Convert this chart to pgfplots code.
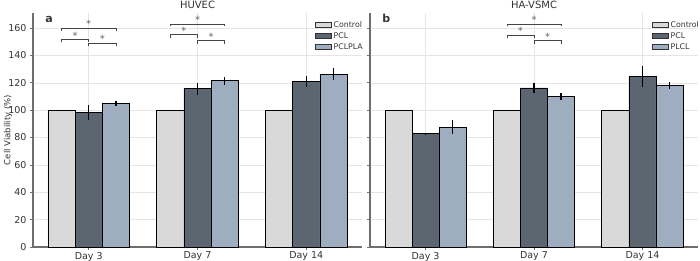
\documentclass[border=0pt]{standalone}
\usepackage{pgfplots}
\pgfplotsset{compat=1.18}
\usepackage{fontspec}
\setmainfont{DejaVu Sans}
\definecolor{cctrl}{RGB}{217,217,217}
\definecolor{cpcl}{RGB}{91,102,112}
\definecolor{cpla}{RGB}{158,173,191}
\definecolor{spine}{RGB}{110,110,110}
\definecolor{brk}{RGB}{70,70,70}
\tikzset{brkstyle/.style={brk, line width=0.8pt}}
\pgfplotsset{
  barplot/.style={ybar, bar width=0.25, bar shift=0pt, draw=black, line width=0.7pt, fill=#1},
  errplot/.style={forget plot, draw=none, mark=none,
      error bars/.cd, y dir=both, y explicit,
      error bar style={draw=black, line width=1.3pt},
      error mark=none},
  panel/.style={
    scale only axis, width=329pt, height=234pt,
    xmin=-0.5125, xmax=2.5125, ymin=0, ymax=171,
    axis x line*=bottom, axis y line*=left,
    axis line style={spine, line width=1.1pt},
    xtick={0,1,2}, xticklabels={Day 3,Day 7,Day 14},
    ytick={0,20,...,160},
    tick style={spine, line width=0.6pt},
    major tick length=3pt,
    tick align=outside,
    xmajorgrids, ymajorgrids,
    grid style={black!10, line width=0.5pt},
    ticklabel style={font=\fontsize{9.5}{11}\selectfont, text=black!80},
    /pgf/number format/assume math mode=true,
    x tick label style={yshift=1.5pt},
    title style={font=\fontsize{10}{12}\selectfont, text=black!80, yshift=-5pt},
    legend style={draw=none, fill=none, font=\fontsize{7.8}{9}\selectfont, text=black!80,
      at={(1,1)}, anchor=north east, row sep=-0.3pt, inner sep=1pt, xshift=4pt, yshift=-5pt},
    legend cell align=left,
    legend image code/.code={\draw[#1, line width=0.7pt, draw=black!80] (0pt,-2.4pt) rectangle (16pt,2.4pt);},
  },
}
\newcommand{\sigbrack}[4]{% x1 x2 y h
  \draw[brkstyle] (axis cs:#1,{#3-#4}) -- (axis cs:#1,#3) -- (axis cs:#2,#3) -- (axis cs:#2,{#3-#4});
  \node[anchor=base, inner sep=0pt, text=black!60, font=\fontsize{10}{11}\selectfont, yshift=0.5pt]
    at (axis cs:{(#1+#2)/2},#3) {*};
}
\begin{document}
\begin{tikzpicture}[x=1pt,y=1pt]
\begin{axis}[panel, at={(33pt,13pt)}, anchor=south west, title={HUVEC},
  ylabel={Cell Viability (\%)},
  every axis y label/.style={at={(axis description cs:-0.076,0.5)}, rotate=90, anchor=center,
    font=\fontsize{8.5}{10}\selectfont, text=black!80}]
\addplot[barplot=cctrl] coordinates {(-0.25,100) (0.75,100) (1.75,100)};
\addplot[barplot=cpcl] coordinates {(0,98.5) (1,115.6) (2,121.2)};
\addplot[barplot=cpla] coordinates {(0.25,104.9) (1.25,121.5) (2.25,126.4)};
\legend{Control,PCL,PCLPLA}
\addplot[errplot] coordinates {(0,98.5) +- (0,5.5) (1,115.6) +- (0,4.6) (2,121.2) +- (0,4.0)
  (0.25,104.9) +- (0,1.8) (1.25,121.5) +- (0,3.0) (2.25,126.4) +- (0,4.3)};
\sigbrack{-0.25}{0}{151.4}{1.8}
\sigbrack{0}{0.25}{149.0}{2.2}
\sigbrack{-0.25}{0.25}{159.7}{1.9}
\sigbrack{0.75}{1}{155.1}{2.2}
\sigbrack{1}{1.25}{150.7}{2.0}
\sigbrack{0.75}{1.25}{162.9}{1.7}
\node[anchor=base west, font=\bfseries\fontsize{11}{12}\selectfont, text=black!80] at (rel axis cs:0.027,0.96) {a};
\end{axis}
\begin{axis}[panel, at={(370pt,13pt)}, anchor=south west, width=328pt, title={HA-VSMC},
  yticklabels={}]
\addplot[barplot=cctrl] coordinates {(-0.25,100) (0.75,100) (1.75,100)};
\addplot[barplot=cpcl] coordinates {(0,82.7) (1,116.3) (2,124.6)};
\addplot[barplot=cpla] coordinates {(0.25,87.6) (1.25,110.2) (2.25,117.8)};
\legend{Control,PCL,PLCL}
\addplot[errplot] coordinates {(0,82.7) +- (0,0.4) (1,116.3) +- (0,3.4) (2,124.6) +- (0,7.5)
  (0.25,87.6) +- (0,5.2) (1.25,110.2) +- (0,2.7) (2.25,117.8) +- (0,2.7)};
\sigbrack{0.75}{1}{154.9}{2.3}
\sigbrack{1}{1.25}{150.7}{2.0}
\sigbrack{0.75}{1.25}{162.9}{1.7}
\node[anchor=base west, font=\bfseries\fontsize{11}{12}\selectfont, text=black!80] at (rel axis cs:0.027,0.96) {b};
\end{axis}
\pgfresetboundingbox
\useasboundingbox (0,0) rectangle (700,260);
\end{tikzpicture}
\end{document}
